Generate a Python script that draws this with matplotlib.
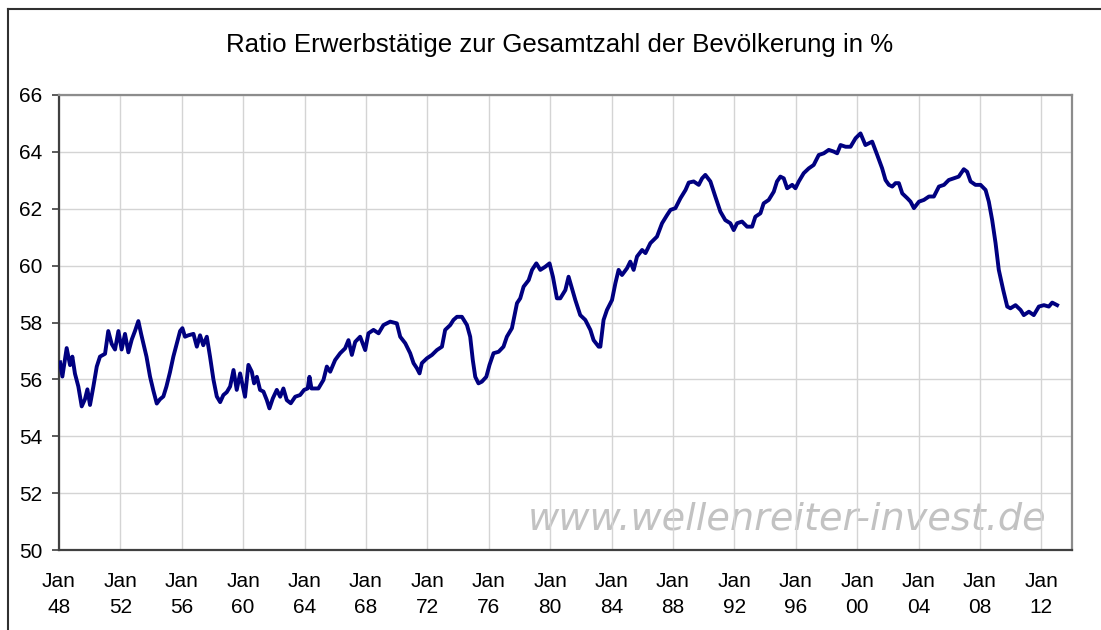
import matplotlib
matplotlib.use('Agg')
import matplotlib.pyplot as plt
from matplotlib.lines import Line2D

# employment-to-population ratio (decimal years)
years = [
    1948.07, 1948.22, 1948.5, 1948.72, 1948.87, 1949.04, 1949.26, 1949.48, 1949.69, 1949.85,
    1950.02, 1950.24, 1950.46, 1950.67, 1951.0, 1951.21, 1951.43, 1951.65, 1951.87, 1952.08,
    1952.3, 1952.52, 1952.74, 1952.95, 1953.17, 1953.35, 1953.5, 1953.7, 1953.93, 1954.15,
    1954.37, 1954.58, 1954.8, 1955.0, 1955.23, 1955.45, 1955.67, 1955.89, 1956.04, 1956.21,
    1956.43, 1956.76, 1956.98, 1957.19, 1957.4, 1957.63, 1957.84, 1958.06, 1958.28, 1958.5,
    1958.71, 1958.93, 1959.15,
    1959.37, 1959.58, 1959.8, 1960.12, 1960.34, 1960.56, 1960.71, 1960.89, 1961.1, 1961.32,
    1961.54, 1961.71, 1961.93, 1962.19, 1962.41, 1962.62, 1962.84, 1963.1, 1963.39, 1963.71,
    1963.97, 1964.2, 1964.32, 1964.45, 1964.58, 1964.9, 1965.23, 1965.45, 1965.67, 1965.99,
    1966.32, 1966.64, 1966.86, 1967.08, 1967.3, 1967.62, 1967.95, 1968.16, 1968.49, 1968.82,
    1969.14, 1969.58, 1970.01, 1970.23, 1970.56,
    1970.88, 1971.1, 1971.32, 1971.49, 1971.64, 1971.97, 1972.3, 1972.62, 1972.95, 1973.16,
    1973.49, 1973.7, 1973.93, 1974.25, 1974.58, 1974.79, 1974.96, 1975.12, 1975.33, 1975.55,
    1975.84, 1976.05, 1976.31, 1976.64, 1976.96, 1977.18, 1977.51, 1977.84, 1978.05, 1978.27,
    1978.6, 1978.82, 1979.1, 1979.36, 1979.68, 1979.96, 1980.18, 1980.44, 1980.66, 1980.99,
    1981.2, 1981.42, 1981.64, 1981.96, 1982.29, 1982.62, 1982.83, 1983.16,
    1983.27, 1983.48, 1983.7, 1984.03, 1984.25, 1984.46, 1984.68, 1985.01, 1985.22, 1985.44,
    1985.66, 1985.99, 1986.21, 1986.53, 1986.96, 1987.29, 1987.62, 1987.84, 1988.16, 1988.49,
    1988.82, 1989.03, 1989.35, 1989.68, 1989.9, 1990.11, 1990.44, 1990.76, 1991.09, 1991.41,
    1991.74, 1991.96, 1992.18, 1992.5, 1992.83, 1993.16, 1993.37, 1993.7, 1993.91, 1994.24,
    1994.57, 1994.78, 1995.0, 1995.22, 1995.44, 1995.77, 1995.98, 1996.2, 1996.52, 1996.85,
    1997.17, 1997.5, 1997.83, 1998.15, 1998.48, 1998.7, 1998.92, 1999.25,
    1999.57, 1999.9, 2000.22, 2000.54, 2000.98, 2001.31, 2001.63, 2001.85, 2002.07, 2002.29,
    2002.5, 2002.72, 2002.94, 2003.27, 2003.48, 2003.7, 2004.03, 2004.35, 2004.68, 2005.0,
    2005.33, 2005.66, 2005.97, 2006.3, 2006.62, 2006.95, 2007.17, 2007.39, 2007.71, 2008.04,
    2008.37, 2008.58, 2008.8, 2009.02, 2009.23, 2009.52, 2009.78, 2009.99, 2010.32, 2010.65,
    2010.86, 2011.19, 2011.51, 2011.84, 2012.17, 2012.49, 2012.71, 2013.03,
]
ratio = [
    56.6, 56.1, 57.1, 56.5, 56.8, 56.2, 55.75, 55.05, 55.3, 55.65,
    55.1, 55.75, 56.45, 56.8, 56.9, 57.7, 57.25, 57.05, 57.7, 57.05,
    57.6, 56.95, 57.4, 57.7, 58.05, 57.6, 57.25, 56.8, 56.1, 55.6,
    55.15, 55.3, 55.4, 55.75, 56.25, 56.8, 57.25, 57.7, 57.8, 57.5,
    57.55, 57.6, 57.15, 57.55, 57.2, 57.5, 56.8, 56.0, 55.4, 55.2,
    55.45, 55.55, 55.75,
    56.33, 55.63, 56.21, 55.39, 56.51, 56.27, 55.86, 56.09, 55.63, 55.57,
    55.27, 54.98, 55.33, 55.63, 55.39, 55.68, 55.27, 55.16, 55.39, 55.45,
    55.63, 55.68, 56.09, 55.68, 55.68, 55.68, 55.98, 56.45, 56.27, 56.68,
    56.92, 57.09, 57.38, 56.86, 57.32, 57.5, 57.03, 57.62, 57.74, 57.62,
    57.91, 58.03, 57.97, 57.5, 57.27,
    56.92, 56.57, 56.39, 56.21, 56.57, 56.74, 56.86, 57.03, 57.15, 57.74,
    57.91, 58.09, 58.2, 58.2, 57.91, 57.5, 56.68, 56.09, 55.86, 55.92,
    56.09, 56.51, 56.92, 56.97, 57.15, 57.5, 57.8, 58.68, 58.85, 59.26,
    59.49, 59.85, 60.08, 59.85, 59.96, 60.08, 59.61, 58.85, 58.85, 59.14,
    59.61, 59.2, 58.79, 58.26, 58.09, 57.74, 57.38, 57.15,
    57.15, 58.09, 58.44, 58.79, 59.38, 59.85, 59.67, 59.91, 60.14, 59.85,
    60.32, 60.55, 60.44, 60.79, 61.02, 61.49, 61.78, 61.96, 62.02, 62.37,
    62.66, 62.92, 62.96, 62.84, 63.07, 63.19, 62.96, 62.43, 61.9, 61.6,
    61.49, 61.25, 61.49, 61.55, 61.37, 61.37, 61.72, 61.84, 62.19, 62.31,
    62.6, 62.96, 63.13, 63.07, 62.72, 62.84, 62.72, 62.96, 63.25, 63.42,
    63.54, 63.89, 63.95, 64.07, 64.01, 63.95, 64.24, 64.18,
    64.18, 64.48, 64.65, 64.24, 64.36, 63.89, 63.42, 63.01, 62.84, 62.78,
    62.9, 62.9, 62.54, 62.37, 62.25, 62.02, 62.25, 62.31, 62.43, 62.43,
    62.78, 62.84, 63.01, 63.07, 63.13, 63.39, 63.3, 62.96, 62.84, 62.84,
    62.66, 62.25, 61.6, 60.79, 59.85, 59.14, 58.56, 58.5, 58.61, 58.44,
    58.26, 58.38, 58.26, 58.56, 58.61, 58.56, 58.7, 58.61,
]

tick_years = list(range(1948, 2013, 4))
tick_labels = ['Jan\n%02d' % (y % 100) for y in tick_years]
y_ticks = list(range(50, 67, 2))

plt.rcParams['font.family'] = ['Liberation Sans', 'DejaVu Sans']

W, H = 1101, 630
fig = plt.figure(figsize=(W / 100, H / 100), dpi=100)

# outer chart frame (only left and top edges are visible in the crop)
fig.add_artist(Line2D([7.5 / W, 7.5 / W], [0, 1 - 9 / H], transform=fig.transFigure, color='#303030', lw=1.5))
fig.add_artist(Line2D([7.5 / W, 1], [1 - 9 / H, 1 - 9 / H], transform=fig.transFigure, color='#303030', lw=1.5))

ax = fig.add_axes([59 / W, 1 - 550 / H, (1072 - 59) / W, (550 - 95) / H])
ax.plot(years, ratio, color='#000080', lw=2.8, solid_joinstyle='round', zorder=3)

ax.set_xlim(1948, 2014)
ax.set_ylim(50, 66)
ax.set_xticks(tick_years)
ax.set_xticklabels(tick_labels, linespacing=1.45)
ax.set_yticks(y_ticks)

ax.grid(color='#d4d4d4', lw=1)
ax.tick_params(axis='x', length=0, pad=16, labelsize=15, colors='black')
ax.tick_params(axis='y', length=5, width=1.2, pad=7, labelsize=15, color='#404040')

for side in ['left', 'bottom']:
    ax.spines[side].set_color('#404040')
    ax.spines[side].set_linewidth(1.6)
for side in ['top', 'right']:
    ax.spines[side].set_color('#8c8c8c')
    ax.spines[side].set_linewidth(1.6)

fig.text(560 / W, 1 - 45 / H, 'Ratio Erwerbstätige zur Gesamtzahl der Bevölkerung in %',
         ha='center', va='center', fontsize=18.6)

# watermark, wide Verdana-like face
ax.text(787 / W, 1 - 520 / H, 'www.wellenreiter-invest.de', transform=fig.transFigure,
        ha='center', va='center', fontsize=27.5, style='italic', color='#c2c2c2',
        family='DejaVu Sans', zorder=1)

fig.savefig('out.png', dpi=100)
